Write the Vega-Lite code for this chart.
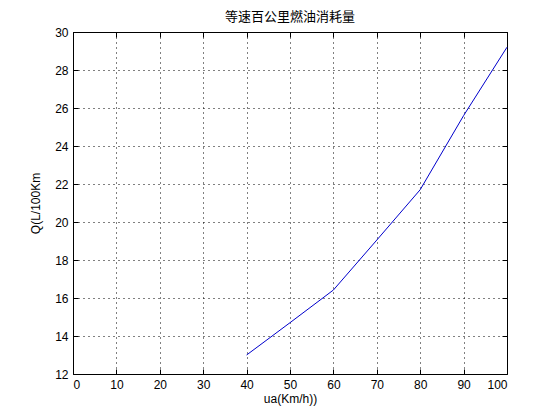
{
  "$schema": "https://vega.github.io/schema/vega-lite/v6.json",
  "width": 434,
  "height": 342,
  "autosize": "none",
  "padding": {"left": 73, "top": 32, "right": 53, "bottom": 46},
  "background": "white",
  "title": {"text": "等速百公里燃油消耗量", "font": "Noto Sans CJK SC", "fontSize": 13, "fontWeight": "normal", "color": "black", "offset": 2},
  "config": {
    "view": {"stroke": null},
    "axis": {
      "domainColor": "black", "domainWidth": 1,
      "tickColor": "black", "tickSize": -5, "tickWidth": 1,
      "labelFont": "Liberation Sans", "labelFontSize": 12, "labelColor": "black",
      "titleFont": "Liberation Sans", "titleFontSize": 12, "titleFontWeight": "normal", "titleColor": "black",
      "gridColor": "black", "gridDash": [1, 4], "gridOpacity": 1, "gridWidth": 1
    }
  },
  "data": {"values": [
    {"ua": 40, "Q": 13.0},
    {"ua": 50, "Q": 14.7},
    {"ua": 60, "Q": 16.42},
    {"ua": 70, "Q": 19.05},
    {"ua": 80, "Q": 21.7},
    {"ua": 90, "Q": 25.6},
    {"ua": 100, "Q": 29.2}
  ]},
  "layer": [
    {
      "mark": {"type": "line", "color": "#0000cc", "strokeWidth": 1},
      "encoding": {
        "x": {"field": "ua", "type": "quantitative", "scale": {"domain": [0, 100], "nice": false, "zero": false},
              "axis": {"title": "ua(Km/h))", "values": [0,10,20,30,40,50,60,70,80,90,100], "grid": true, "labelPadding": 10, "titlePadding": 3}},
        "y": {"field": "Q", "type": "quantitative", "scale": {"domain": [12, 30], "nice": false, "zero": false},
              "axis": {"title": "Q(L/100Km", "values": [12,14,16,18,20,22,24,26,28,30], "grid": true, "labelPadding": 10, "titlePadding": 12}}
      }
    },
    {
      "mark": {"type": "line", "opacity": 0},
      "encoding": {
        "x": {"field": "ua", "type": "quantitative", "scale": {"domain": [0, 100], "nice": false, "zero": false},
              "axis": {"orient": "top", "title": null, "labels": false, "values": [0,10,20,30,40,50,60,70,80,90,100], "grid": false}},
        "y": {"field": "Q", "type": "quantitative", "scale": {"domain": [12, 30], "nice": false, "zero": false},
              "axis": {"orient": "right", "title": null, "labels": false, "values": [12,14,16,18,20,22,24,26,28,30], "grid": false}}
      }
    }
  ],
  "resolve": {"axis": {"x": "independent", "y": "independent"}}
}
